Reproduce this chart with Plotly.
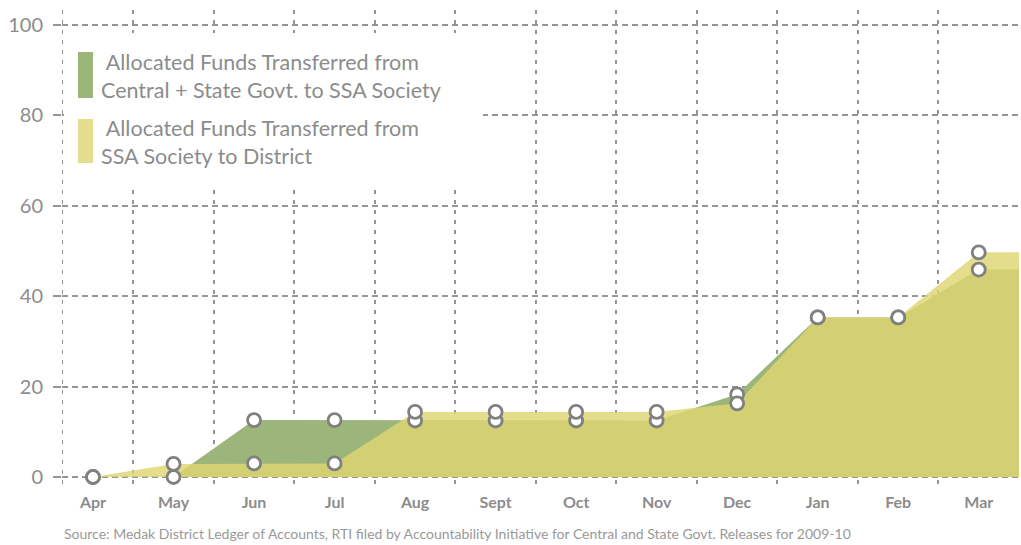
import plotly.graph_objects as go

months = ["Apr", "May", "Jun", "Jul", "Aug", "Sept", "Oct", "Nov", "Dec", "Jan", "Feb", "Mar"]
central_to_ssa = [0, 0, 12.6, 12.6, 12.5, 12.5, 12.5, 12.5, 18.3, 35.3, 35.3, 45.9]
ssa_to_district = [0, 2.9, 3.0, 3.0, 14.4, 14.4, 14.4, 14.4, 16.3, 35.3, 35.3, 49.7]
y_ticks = [0, 20, 40, 60, 80, 100]

legend_green = "\u00a0Allocated Funds Transferred from<br>Central + State Govt. to SSA Society"
legend_yellow = "\u00a0Allocated Funds Transferred from<br>SSA Society to District"
source_text = ("Source: Medak District Ledger of Accounts, RTI filed by Accountability "
               "Initiative for Central and State Govt. Releases for 2009-10")

GREEN = "#9bb57a"
YELLOW = "rgba(222,214,114,0.82)"
YELLOW_SOLID = "#e4dd8b"
GRID = "#959595"
TEXT = "#8c8c8c"
FONT = "Lato"

idx = list(range(len(months)))
x_lo, x_hi = -0.385, len(months) - 0.5
y_lo, y_hi = -1.55, 103.32
x_ext = [x_lo] + idx + [x_hi]


def ext(v):
    return [v[0]] + list(v) + [v[-1]]


fig = go.Figure()
fig.add_trace(go.Scatter(x=x_ext, y=ext(central_to_ssa), mode="lines", fill="tozeroy",
                         fillcolor=GREEN, line=dict(width=0), hoverinfo="skip",
                         showlegend=False))
fig.add_trace(go.Scatter(x=x_ext, y=ext(ssa_to_district), mode="lines", fill="tozeroy",
                         fillcolor=YELLOW, line=dict(width=0), hoverinfo="skip",
                         showlegend=False))
for vals in (central_to_ssa, ssa_to_district):
    fig.add_trace(go.Scatter(x=idx, y=vals, mode="markers", cliponaxis=False,
                             marker=dict(size=13, color="white",
                                         line=dict(color="#808080", width=2.8)),
                             showlegend=False))


def px_x(p):
    return (p - 62) / 957.0


def px_y(p):
    return (484 - p) / 474.0


# left edge dashed line
fig.add_shape(type="line", xref="x", yref="y", layer="below",
              x0=x_lo, x1=x_lo, y0=y_lo, y1=y_hi,
              line=dict(color=GRID, width=2, dash="4px,6px"))

# legend box
fig.add_shape(type="rect", xref="paper", yref="paper", layer="above",
              x0=px_x(64), x1=px_x(483), y0=px_y(190), y1=px_y(33),
              fillcolor="white", line=dict(width=0))
fig.add_shape(type="rect", xref="paper", yref="paper", layer="above",
              x0=px_x(78), x1=px_x(93), y0=px_y(98), y1=px_y(52),
              fillcolor=GREEN, line=dict(width=0))
fig.add_shape(type="rect", xref="paper", yref="paper", layer="above",
              x0=px_x(78), x1=px_x(93), y0=px_y(163), y1=px_y(119),
              fillcolor=YELLOW_SOLID, line=dict(width=0))
fig.add_annotation(text=legend_green, xref="paper", yref="paper", x=px_x(99), y=px_y(75.5),
                   xanchor="left", yanchor="middle", align="left", showarrow=False,
                   font=dict(family=FONT, size=21.5, color=TEXT))
fig.add_annotation(text=legend_yellow, xref="paper", yref="paper", x=px_x(99), y=px_y(141.5),
                   xanchor="left", yanchor="middle", align="left", showarrow=False,
                   font=dict(family=FONT, size=21.5, color=TEXT))
fig.add_annotation(text=source_text, xref="paper", yref="paper", x=0, y=px_y(533),
                   xanchor="left", yanchor="middle", align="left", showarrow=False,
                   font=dict(family=FONT, size=14, color="#999999"))

fig.update_layout(
    width=1021, height=545,
    margin=dict(l=62, r=2, t=10, b=61),
    paper_bgcolor="white", plot_bgcolor="white",
    xaxis=dict(range=[x_lo, x_hi], tickmode="array", tickvals=idx, ticktext=months,
               showgrid=False, zeroline=False, showline=False, ticks="",
               ticklabelstandoff=7,
               tickfont=dict(family=FONT, size=16, color=TEXT, weight="bold"),
               minor=dict(tickmode="array", tickvals=[i + 0.5 for i in idx],
                          showgrid=True, gridcolor=GRID, gridwidth=2, griddash="4px,6px")),
    yaxis=dict(range=[y_lo, y_hi], tickmode="array", tickvals=y_ticks,
               showgrid=True, gridcolor=GRID, gridwidth=2, griddash="6px,4px",
               zeroline=False, showline=False, ticks="outside", ticklen=8,
               tickwidth=2, tickcolor=GRID, ticklabelstandoff=6,
               tickfont=dict(family=FONT, size=20, color=TEXT)),
)

fig.write_html("out.html", config={"displayModeBar": False},
               post_script="document.body.style.margin='0';")
